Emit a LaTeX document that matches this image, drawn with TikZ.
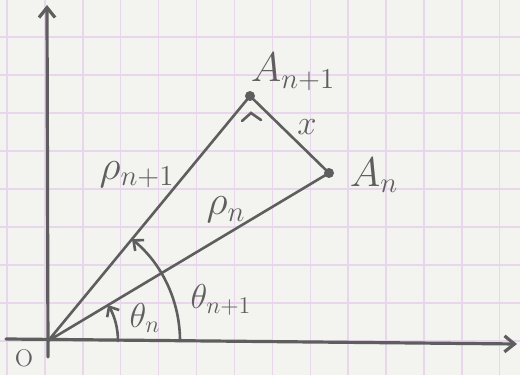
\documentclass[tikz,border=0pt]{standalone}
\usepackage{amsmath}
\usepackage{xcolor}
\usetikzlibrary{arrows.meta,calc}
\definecolor{paper}{HTML}{F3F3F0}
\definecolor{gridpink}{HTML}{E8D6EC}
\definecolor{pencil}{HTML}{5E5E5E}

\begin{document}
\begin{tikzpicture}[x=0.5pt,y=0.5pt,
   every node/.style={font=\LARGE,text=pencil,inner sep=1pt},
   grd/.style={gridpink,line width=0.7pt},
   pen/.style={pencil,line width=1.3pt,line cap=round},
   axis/.style={pen,line width=1.6pt,-{Straight Barb[length=5pt,width=8pt]}},
   ang/.style={pen,-{Straight Barb[length=4pt,width=7pt]}},
   pt/.style={fill=pencil}
]
% squared paper
\fill[paper] (0,0) rectangle (520,375);
\useasboundingbox (0,0) rectangle (520,375);
\foreach \i in {0,...,13}
   \draw[grd] (7+37.9*\i,0) -- (7+37.9*\i,375);
\foreach \j in {0,...,8}
   \draw[grd] (0,338-38*\j) -- (520,338-38*\j);

% axes
\coordinate (O) at (48,34);
\coordinate (xs) at (6,36);
\coordinate (xe) at (517,31);
\coordinate (ys) at (48,18);
\coordinate (ye) at (47,370);
\draw[axis] (xs) -- (xe);
\draw[axis] (ys) -- (ye);
\node (lO) at (24,17) {\large O};

% the two points and the triangle
\coordinate (An) at (329,202);
\coordinate (Anp) at (250,279);
\draw[pen] (O) -- (Anp) -- (An) -- (O);
\fill[pt] (An) circle (5);
\fill[pt] (Anp) circle (5);
\draw[pen] ($(Anp)+(-8,-25)$) -- ($(Anp)+(1,-17)$) -- ($(Anp)+(11,-24)$);

\node (lAn) at (374,200) {\huge $A_n$};
\node (lAnp) at (293,303) {\huge $A_{n+1}$};
\node (lx) at (307,248) {\LARGE $x$};
\node (lrnp) at (137,200) {\huge $\rho_{n+1}$};
\node (lrn) at (226,165) {\huge $\rho_n$};

% angles
\draw[ang] ($(O)+(70,0)$) arc[start angle=0,end angle=30.9,radius=70];
\draw[ang] ($(O)+(132,0)$) arc[start angle=0,end angle=50.5,radius=132];
\node (ltn) at (145,57) {\LARGE $\theta_n$};
\node (ltnp) at (221,75) {\LARGE $\theta_{n+1}$};
\end{tikzpicture}
\end{document}
